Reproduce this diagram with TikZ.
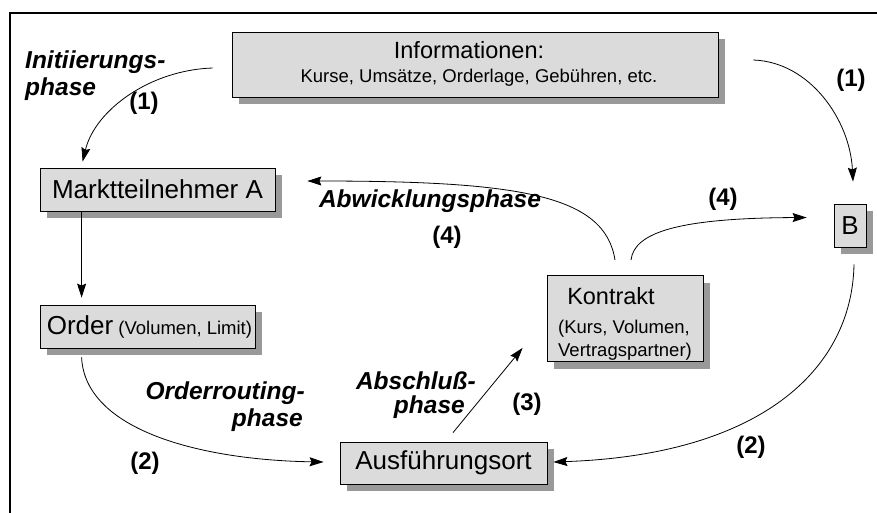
\documentclass[tikz,border=0pt]{standalone}
\usepackage{fontspec}
\setmainfont{Liberation Sans}
\usetikzlibrary{shadows,calc,arrows.meta}
\begin{document}
\begin{tikzpicture}[x=1pt,y=-1pt,
  box/.style={draw=black, line width=0.8pt, fill=black!14, rectangle, inner sep=0pt,
    drop shadow={shadow xshift=7pt, shadow yshift=-7pt, fill=black!40, opacity=1}},
  conn/.style={draw=black, line width=0.8pt, -{Stealth[length=14pt,width=9pt,inset=2pt]}},
  phase/.style={font=\fontsize{24.5}{28}\selectfont\bfseries\itshape, inner sep=0pt},
  num/.style={font=\fontsize{24}{28}\selectfont\bfseries, inner sep=0pt},
  big/.style={font=\fontsize{26}{30}\selectfont, inner sep=0pt},
  mid/.style={font=\fontsize{23.5}{27}\selectfont, inner sep=0pt},
  small/.style={font=\fontsize{18.5}{22}\selectfont, inner sep=0pt}
]
\useasboundingbox (0,0) rectangle (877,512);
\fill[white] (0,0) rectangle (877,512);
% frame
\draw[line width=2.5pt] (10,515) -- (10,13) -- (880,13);

% boxes
\node[box, minimum width=486pt, minimum height=65pt] (info) at (475,64.5) {};
\node[box, minimum width=235pt, minimum height=43pt] (A) at (157.5,189.5) {};
\node[box, minimum width=32pt, minimum height=43pt] (B) at (850,225.5) {};
\node[box, minimum width=215pt, minimum height=43pt] (order) at (147.5,326.5) {};
\node[box, minimum width=156pt, minimum height=86pt] (kontrakt) at (625,318.5) {};
\node[box, minimum width=207pt, minimum height=42pt] (ort) at (443.5,463) {};

% box texts
\node[mid] (infoT) at (469,50) {Informationen:};
\node[small] (infoD) at (479,78) {Kurse, Umsätze, Orderlage, Gebühren, etc.};
\node[big] (AT) at (A) {Marktteilnehmer A};
\node[big] (BT) at (B) {B};
\node[anchor=west, inner sep=0pt] (orderT) at ($(order.west)+(7,0)$)
  {\fontsize{26}{30}\selectfont Order\fontsize{18.5}{22}\selectfont{} (Volumen, Limit)};
\node[mid] (kT1) at (611,296) {Kontrakt};
\node[small] (kT2) at (624,329) {(Kurs, Volumen,};
\node[small] (kT3) at (625,352) {Vertragspartner)};
\node[big] (ortT) at (ort) {Ausführungsort};

% connectors
\draw[conn] ($(info.west)+(-19,3.5)$) .. controls (150,70) and (95,110) .. ($(A.north west)+(43,-6)$);
\draw[conn] ($(info.east)+(35,-4.5)$) .. controls (810,62) and (850,120) .. ($(B.north)+(3,-22)$);
\draw[conn] ($(A.south west)+(42,0)$) -- ($(order.north west)+(42,-7)$);
\draw[conn] ($(order.south west)+(42,9)$) .. controls (85,430) and (200,460) .. ($(ort.west)+(-16,-1)$);
\draw[conn] ($(B.south)+(4,17)$) .. controls (852,370) and (760,455) .. ($(ort.east)+(6,-1)$);
\draw[conn] ($(ort.north)+(9.5,-9)$) -- ($(kontrakt.south west)+(-24,-14)$);
\draw[conn] ($(kontrakt.north)+(-10,-15)$) .. controls (605,195) and (520,181) .. ($(A.east)+(32,-8.5)$);
\draw[conn] ($(kontrakt.north)+(6,-15)$) .. controls (634,232) and (680,218) .. ($(B.west)+(-27,-8)$);

% phase labels and step numbers
\node[phase, anchor=west] (ini1) at (25,62) {Initiierungs-};
\node[phase, anchor=west] (ini2) at (25,89) {phase};
\node[num] (n1a) at (144,103) {(1)};
\node[num] (n1b) at (851,80) {(1)};
\node[phase] (abw) at (430,201) {Abwicklungsphase};
\node[num] (n4a) at (447,237) {(4)};
\node[num] (n4b) at (723,199) {(4)};
\node[phase, anchor=east] (or1) at (305,393) {Orderrouting-};
\node[phase, anchor=east] (or2) at (303,420) {phase};
\node[num] (n2a) at (145,463) {(2)};
\node[phase, anchor=east] (ab1) at (476,381) {Abschluß-};
\node[phase, anchor=east] (ab2) at (465,407) {phase};
\node[num] (n3) at (527,404) {(3)};
\node[num] (n2b) at (751,447) {(2)};
\end{tikzpicture}
\end{document}
